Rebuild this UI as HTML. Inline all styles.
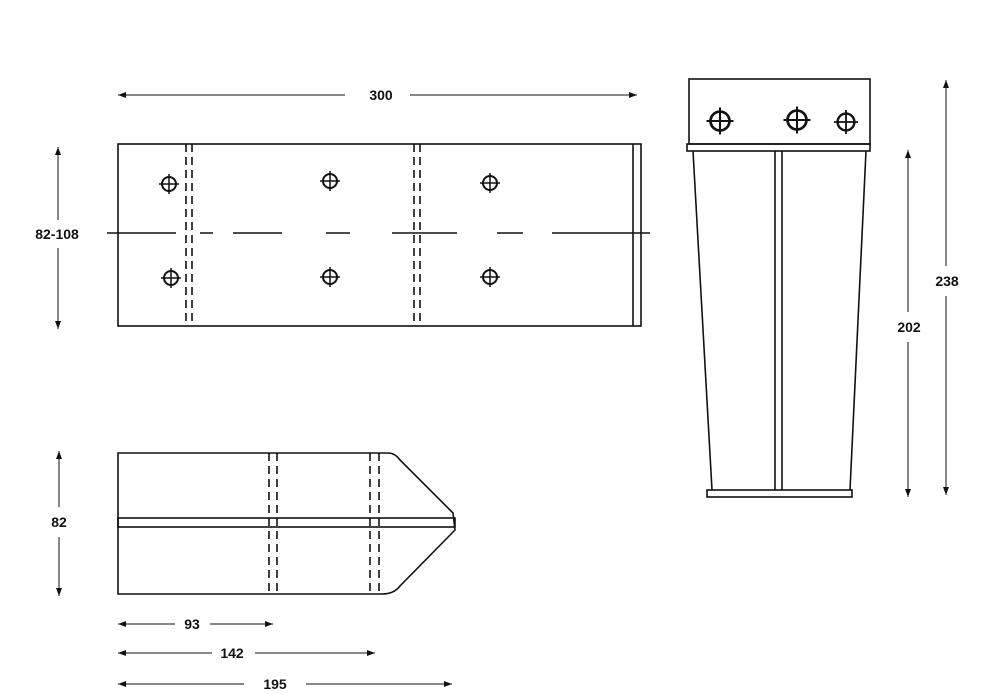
<!DOCTYPE html>
<html><head><meta charset="utf-8"><style>
html,body{margin:0;padding:0;background:#fff;}
svg{display:block;}
text{font-family:"Liberation Sans",sans-serif;font-weight:bold;font-size:14px;fill:#111;}
</style></head><body>
<svg width="1000" height="694" viewBox="0 0 1000 694" xmlns="http://www.w3.org/2000/svg">
<defs>
<marker id="a" markerWidth="8" markerHeight="6" refX="8" refY="3" orient="auto-start-reverse"><path d="M0,0 L8,3 L0,6" fill="#111"/></marker>
<g id="ch"><circle r="7" fill="none" stroke="#111" stroke-width="2"/><line x1="-10" y1="0" x2="10" y2="0" stroke="#111" stroke-width="1.5"/><line x1="0" y1="-10" x2="0" y2="10" stroke="#111" stroke-width="1.5"/></g>
</defs>
<g stroke="#111" fill="none" stroke-width="1.6">
<!-- top view -->
<rect x="118" y="144" width="523" height="182"/>
<line x1="633" y1="144" x2="633" y2="326"/>
<line x1="186" y1="144" x2="186" y2="326" stroke-dasharray="8,5"/>
<line x1="192" y1="144" x2="192" y2="326" stroke-dasharray="8,5"/>
<line x1="414" y1="144" x2="414" y2="326" stroke-dasharray="8,5"/>
<line x1="420" y1="144" x2="420" y2="326" stroke-dasharray="8,5"/>
<path d="M107,233 H176 M200,233 H213 M233,233 H282 M326,233 H350 M392,233 H457 M497,233 H523 M552,233 H650"/>
<!-- side view -->
<rect x="689" y="79" width="181" height="65"/>
<rect x="687" y="144" width="183" height="7"/>
<path d="M693,151 L712,490 M866,151 L850,490"/>
<line x1="775" y1="151" x2="775" y2="490"/>
<line x1="782" y1="151" x2="782" y2="490"/>
<rect x="707" y="490" width="145" height="7"/>
<!-- bottom view -->
<path d="M118,453 L388,453 Q395,453 400,460 L453,513 L455,530 L400,586 Q394,594 382,594 L118,594 Z"/>
<rect x="118" y="518" width="337" height="9"/>
<line x1="269" y1="453" x2="269" y2="594" stroke-dasharray="8,5"/>
<line x1="277" y1="453" x2="277" y2="594" stroke-dasharray="8,5"/>
<line x1="370" y1="453" x2="370" y2="594" stroke-dasharray="8,5"/>
<line x1="379" y1="453" x2="379" y2="594" stroke-dasharray="8,5"/>
<!-- dims -->
<g stroke-width="1">
<line x1="118" y1="95" x2="345" y2="95" marker-start="url(#a)"/><line x1="410" y1="95" x2="637" y2="95" marker-end="url(#a)"/>
<line x1="58" y1="147" x2="58" y2="220" marker-start="url(#a)"/><line x1="58" y1="248" x2="58" y2="329" marker-end="url(#a)"/>
<line x1="946" y1="80" x2="946" y2="266" marker-start="url(#a)"/><line x1="946" y1="296" x2="946" y2="495" marker-end="url(#a)"/>
<line x1="908" y1="150" x2="908" y2="312" marker-start="url(#a)"/><line x1="908" y1="342" x2="908" y2="497" marker-end="url(#a)"/>
<line x1="59" y1="451" x2="59" y2="507" marker-start="url(#a)"/><line x1="59" y1="537" x2="59" y2="596" marker-end="url(#a)"/>
<line x1="118" y1="624" x2="175" y2="624" marker-start="url(#a)"/><line x1="210" y1="624" x2="273" y2="624" marker-end="url(#a)"/>
<line x1="118" y1="653" x2="212" y2="653" marker-start="url(#a)"/><line x1="255" y1="653" x2="375" y2="653" marker-end="url(#a)"/>
<line x1="118" y1="684" x2="244" y2="684" marker-start="url(#a)"/><line x1="306" y1="684" x2="452" y2="684" marker-end="url(#a)"/>
</g>
</g>
<use href="#ch" x="169" y="184"/><use href="#ch" x="330" y="181"/><use href="#ch" x="490" y="183"/>
<use href="#ch" x="171" y="278"/><use href="#ch" x="330" y="277"/><use href="#ch" x="490" y="277"/>
<g transform="translate(720,121) scale(1.35)"><use href="#ch"/></g>
<g transform="translate(797,120) scale(1.35)"><use href="#ch"/></g>
<g transform="translate(846,122) scale(1.2)"><use href="#ch"/></g>
<text x="381" y="100" text-anchor="middle">300</text>
<text x="57" y="239" text-anchor="middle">82-108</text>
<text x="947" y="286" text-anchor="middle">238</text>
<text x="909" y="332" text-anchor="middle">202</text>
<text x="59" y="527" text-anchor="middle">82</text>
<text x="192" y="629" text-anchor="middle">93</text>
<text x="232" y="658" text-anchor="middle">142</text>
<text x="275" y="689" text-anchor="middle">195</text>
</svg>
</body></html>
